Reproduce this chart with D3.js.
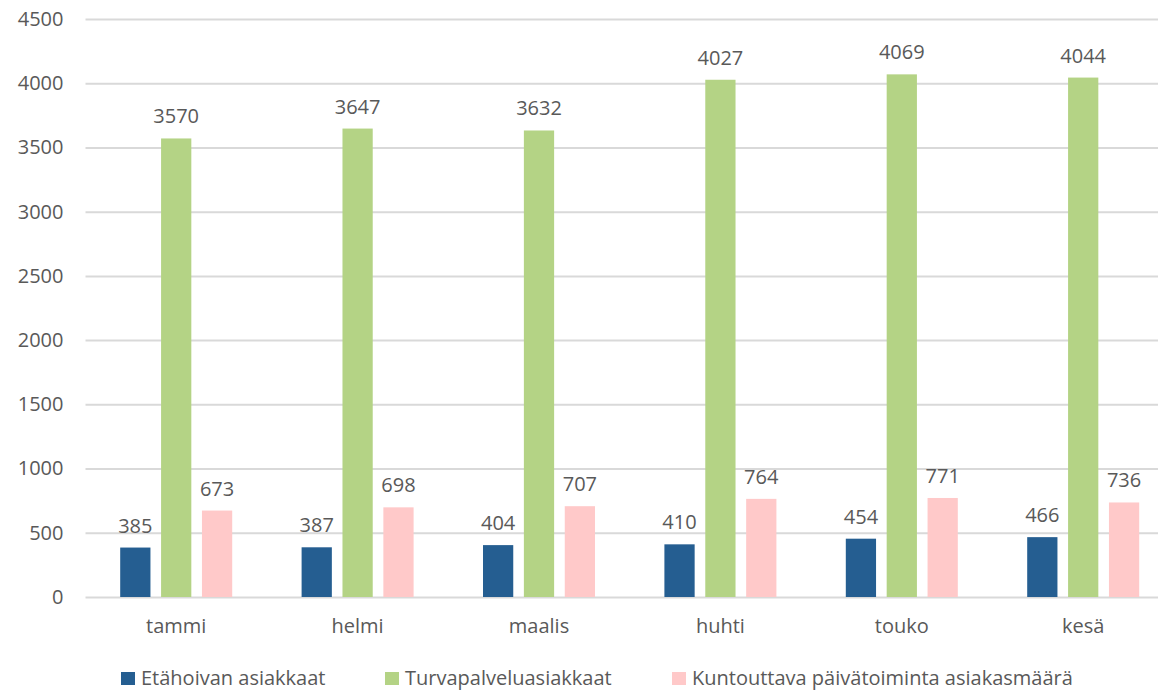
<!DOCTYPE html>
<html><head><meta charset="utf-8">
<script src="https://cdn.jsdelivr.net/npm/d3@7"></script>
<style>body{margin:0;background:#fff}svg{display:block}text{font-family:"Open Sans","Noto Sans",sans-serif;fill:#595959}</style>
</head><body><svg id="c" width="1158" height="691"></svg>
<script>
const categories = ["tammi","helmi","maalis","huhti","touko","kesä"];
const seriesNames = ["Etähoivan asiakkaat","Turvapalveluasiakkaat","Kuntouttava päivätoiminta asiakasmäärä"];
const etahoito = [385,387,404,410,454,466];
const turva = [3570,3647,3632,4027,4069,4044];
const kuntouttava = [673,698,707,764,771,736];
const yTicks = [0,500,1000,1500,2000,2500,3000,3500,4000,4500];
const colors = ["#255E91","#B4D385","#FFC9C9"];
const series = [etahoito, turva, kuntouttava];

const svg = d3.select("#c");
const left = 85.5, bandW = 181.4;
const x = d3.scaleBand().domain(categories).range([left, left + bandW*6]).paddingInner(0).paddingOuter(0);
const y = d3.scaleLinear().domain([0,4500]).range([597,19]);
const xs = d3.scaleBand().domain([0,1,2]).range([0,112]).paddingInner(0.26).paddingOuter(0);

const yAxis = d3.axisLeft(y).tickValues(yTicks).tickFormat(d3.format("d")).tickSize(-(1158-left)).tickPadding(22);
const gy = svg.append("g").attr("transform",`translate(${left},0)`).call(yAxis);
gy.select(".domain").remove();
gy.selectAll(".tick line").attr("stroke","#D9D9D9").attr("stroke-width",2);
gy.selectAll(".tick text").attr("font-size",20).style("fill","#595959").style("font-family",'"Open Sans",sans-serif');

const xAxis = d3.axisBottom(x).tickSize(0).tickPadding(22);
const gx = svg.append("g").attr("transform","translate(0,597)").call(xAxis);
gx.select(".domain").remove();
gx.selectAll(".tick text").attr("font-size",20).style("fill","#595959").style("font-family",'"Open Sans",sans-serif');

series.forEach((vals, si) => {
  const g = svg.append("g");
  g.selectAll("rect").data(vals).join("rect")
    .attr("x",(d,i)=> x(categories[i]) + bandW/2 - 56 + xs(si))
    .attr("width", xs.bandwidth())
    .attr("y", d=>y(d)).attr("height", d=>y(0)-y(d))
    .attr("fill", colors[si]);
  g.selectAll("text").data(vals).join("text")
    .attr("x",(d,i)=> x(categories[i]) + bandW/2 - 56 + xs(si) + xs.bandwidth()/2)
    .attr("y", d=>y(d)-15)
    .attr("text-anchor","middle").attr("font-size",20).text(d=>d);
});

const legendX = [121, 385, 672];
const lg = svg.append("g");
seriesNames.forEach((n,i)=>{
  lg.append("rect").attr("x",legendX[i]).attr("y",672).attr("width",14).attr("height",13).attr("fill",colors[i]);
  lg.append("text").attr("x",legendX[i]+20).attr("y",685).attr("font-size",20).text(n);
});
</script></body></html>
